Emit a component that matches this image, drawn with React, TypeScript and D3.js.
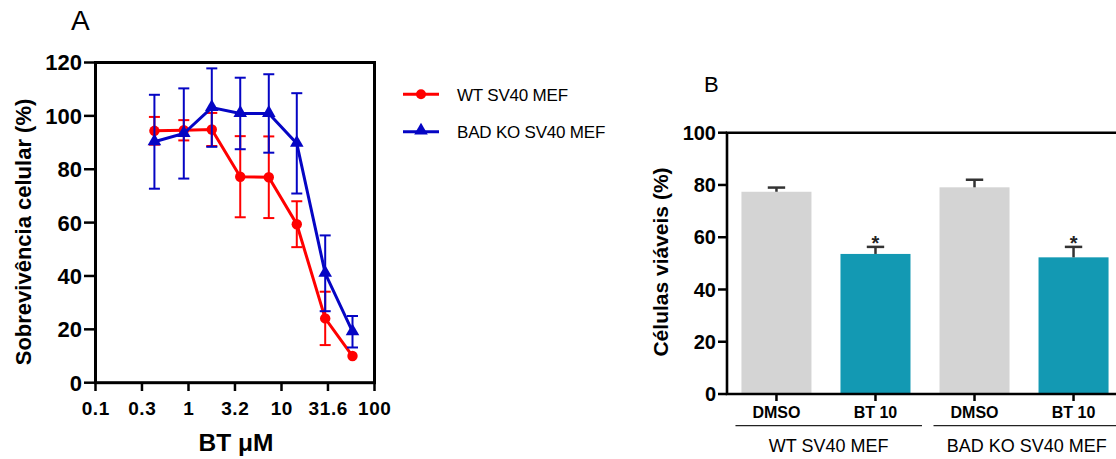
import React from "react";
import * as d3 from "d3";

// ---------- Panel A data ----------
const concentrations = [0.43, 0.89, 1.78, 3.6, 7.3, 14.6, 29.5, 58];
const wtMeans = [94.4, 94.6, 94.9, 77.2, 77.0, 59.4, 24.1, 10.0];
const wtErrors = [5.2, 3.8, 6.2, 15.2, 15.3, 8.6, 10.0, 0];
const koMeans = [90.3, 93.4, 103.1, 100.9, 100.9, 89.7, 41.0, 19.1];
const koErrors = [17.6, 16.9, 14.7, 13.4, 14.7, 18.8, 14.2, 5.9];
const xTickValues = [0.1, 0.316, 1, 3.16, 10, 31.6, 100];
const xTickLabels = ["0.1", "0.3", "1", "3.2", "10", "31.6", "100"];
const yTicksA = [0, 20, 40, 60, 80, 100, 120];
const seriesNames = ["WT SV40 MEF", "BAD KO SV40 MEF"];

// ---------- Panel B data ----------
const barLabels = ["DMSO", "BT 10", "DMSO", "BT 10"];
const barValues = [77.4, 53.6, 79.1, 52.3];
const barErrors = [1.6, 2.7, 2.9, 4.0];
const barSignificant = [false, true, false, true];
const groupLabels = ["WT SV40 MEF", "BAD KO SV40 MEF"];
const yTicksB = [0, 20, 40, 60, 80, 100];

const RED = "#ff0000";
const BLUE = "#0505c4";
const GREY = "#d4d4d4";
const TEAL = "#1399b3";
const FONT = "'Liberation Sans', Arial, Helvetica, sans-serif";
const NARROW = "'Liberation Sans Narrow', 'Arial Narrow', 'Liberation Sans', Arial, sans-serif";

function PanelA() {
  const x = d3.scaleLog().domain([0.1, 100]).range([95.5, 374.5]);
  const y = d3.scaleLinear().domain([0, 120]).range([382.7, 62.5]);
  const line = d3
    .line<number>()
    .x((_, i) => x(concentrations[i]))
    .y((d) => y(d));
  const tri = d3.symbol().type(d3.symbolTriangle).size(80)();
  const series = [
    { means: wtMeans, errs: wtErrors, color: RED, marker: "circle" },
    { means: koMeans, errs: koErrors, color: BLUE, marker: "triangle" },
  ];
  return (
    <g>
      <text x={71} y={30} fontSize={28} fontFamily={FONT}>A</text>
      {/* frame */}
      <rect x={95.5} y={62.5} width={279} height={320.2} fill="none" stroke="#000" strokeWidth={3} />
      {/* y ticks */}
      {yTicksA.map((t) => (
        <g key={t}>
          <line x1={84} x2={95.5} y1={y(t)} y2={y(t)} stroke="#000" strokeWidth={2.5} />
          <text x={82} y={y(t)} dy="0.36em" textAnchor="end" fontSize={22} fontWeight="bold" fontFamily={FONT}>
            {t}
          </text>
        </g>
      ))}
      {/* x ticks */}
      {xTickValues.map((t, i) => (
        <g key={t}>
          <line x1={x(t)} x2={x(t)} y1={382.7} y2={391} stroke="#000" strokeWidth={2.5} />
          <text x={x(t) + 0.3} y={414.5} textAnchor="middle" fontSize={19} fontWeight="bold" letterSpacing={0.6} fontFamily={FONT}>
            {xTickLabels[i]}
          </text>
        </g>
      ))}
      <text
        transform="translate(31,232) rotate(-90)"
        textAnchor="middle"
        fontSize={22}
        fontWeight="bold"
        fontFamily={FONT}
      >
        Sobrevivência celular (%)
      </text>
      <text x={236} y={451} textAnchor="middle" fontSize={24.5} fontWeight="bold" fontFamily={FONT}>
        BT μM
      </text>
      {/* series */}
      {series.map((s, si) => (
        <g key={si}>
          {s.means.map((m, i) => {
            if (s.errs[i] <= 0) return null;
            const cx = x(concentrations[i]);
            const yt = y(m + s.errs[i]);
            const yb = y(m - s.errs[i]);
            return (
              <g key={i} stroke={s.color} strokeWidth={2}>
                <line x1={cx} x2={cx} y1={yt} y2={yb} />
                <line x1={cx - 5.5} x2={cx + 5.5} y1={yt} y2={yt} />
                <line x1={cx - 5.5} x2={cx + 5.5} y1={yb} y2={yb} />
              </g>
            );
          })}
          <path d={line(s.means) || ""} fill="none" stroke={s.color} strokeWidth={3} />
          {s.means.map((m, i) =>
            s.marker === "circle" ? (
              <circle key={i} cx={x(concentrations[i])} cy={y(m)} r={5.2} fill={s.color} />
            ) : (
              <path key={i} d={tri || ""} transform={`translate(${x(concentrations[i])},${y(m) - 0.5})`} fill={s.color} />
            )
          )}
        </g>
      ))}
      {/* legend */}
      {seriesNames.map((n, i) => {
        const ly = 94.3 + i * 37.4;
        const s = series[i];
        return (
          <g key={n}>
            <line x1={403} x2={439} y1={ly} y2={ly} stroke={s.color} strokeWidth={3} />
            {s.marker === "circle" ? (
              <circle cx={421} cy={ly} r={5} fill={s.color} />
            ) : (
              <path d={tri || ""} transform={`translate(421,${ly - 1})`} fill={s.color} />
            )}
            <text x={457} y={ly + 6.4} fontSize={17} fontFamily={FONT} letterSpacing={-0.2}>
              {n}
            </text>
          </g>
        );
      })}
    </g>
  );
}

function PanelB() {
  const x = d3
    .scaleBand<number>()
    .domain(barValues.map((_, i) => i))
    .range([727, 1123])
    .paddingInner(0.293)
    .paddingOuter(0.146);
  const y = d3.scaleLinear().domain([0, 100]).range([394, 132.7]);
  const bw = x.bandwidth();
  return (
    <g>
      <text x={704} y={92} fontSize={22} fontFamily={FONT}>B</text>
      {barValues.map((v, i) => {
        const x0 = x(i) as number;
        const cx = x0 + bw / 2;
        const yt = y(v + barErrors[i]);
        return (
          <g key={i}>
            <rect x={x0} y={y(v)} width={bw} height={y(0) - y(v)} fill={i % 2 === 0 ? GREY : TEAL} />
            <line x1={cx} x2={cx} y1={y(v)} y2={yt} stroke="#333" strokeWidth={2.5} />
            <line x1={cx - 8.7} x2={cx + 8.7} y1={yt} y2={yt} stroke="#333" strokeWidth={2.5} />
            {barSignificant[i] && (
              <text x={cx} y={yt + 3} textAnchor="middle" fontSize={20} fontWeight="bold" fontFamily={FONT} fill="#222">
                *
              </text>
            )}
          </g>
        );
      })}
      {/* frame */}
      <path d={`M1125,132.7 H727 V394 H1125`} fill="none" stroke="#000" strokeWidth={2.6} />
      {yTicksB.map((t) => (
        <g key={t}>
          <line x1={718} x2={727} y1={y(t)} y2={y(t)} stroke="#000" strokeWidth={2.5} />
          <text x={716} y={y(t)} dy="0.36em" textAnchor="end" fontSize={20} fontWeight="bold" fontFamily={FONT}>
            {t}
          </text>
        </g>
      ))}
      {barLabels.map((l, i) => {
        const cx = (x(i) as number) + bw / 2;
        return (
          <g key={i}>
            <line x1={cx} x2={cx} y1={394} y2={401} stroke="#000" strokeWidth={2.5} />
            <text x={cx} y={418.3} textAnchor="middle" fontSize={16} fontWeight="bold" fontFamily={NARROW}>
              {l}
            </text>
          </g>
        );
      })}
      {groupLabels.map((g, gi) => {
        const c0 = (x(gi * 2) as number) + bw / 2;
        const c1 = (x(gi * 2 + 1) as number) + bw / 2;
        const lx0 = c0 - 41;
        const lx1 = c1 + 46.5;
        return (
          <g key={g}>
            <line x1={lx0} x2={lx1} y1={425.7} y2={425.7} stroke="#222" strokeWidth={1.3} />
            <text x={(lx0 + lx1) / 2} y={451.7} textAnchor="middle" fontSize={18} fontFamily={FONT}>
              {g}
            </text>
          </g>
        );
      })}
      <text
        transform="translate(668,262) rotate(-90)"
        textAnchor="middle"
        fontSize={21}
        fontWeight="bold"
        fontFamily={FONT}
      >
        Células viáveis (%)
      </text>
    </g>
  );
}

export default function App() {
  return (
    <svg
      width={1116}
      height={459}
      style={{ position: "absolute", left: 0, top: 0, background: "#fff" }}
    >
      <rect width={1116} height={459} fill="#fff" />
      <PanelA />
      <PanelB />
    </svg>
  );
}
